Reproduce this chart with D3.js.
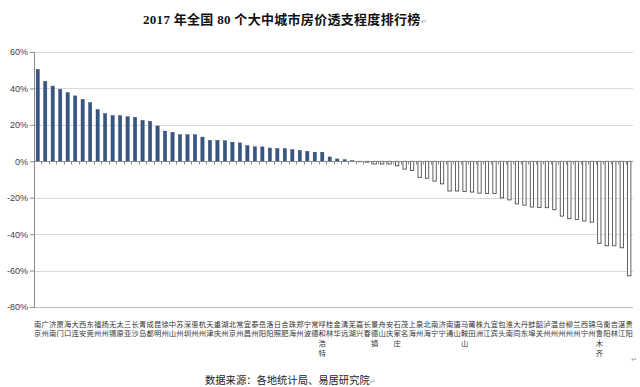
<!DOCTYPE html>
<html>
<head>
<meta charset="utf-8">
<script src="https://cdn.jsdelivr.net/npm/d3@7"></script>
<style>
  body { margin: 0; background: #fff; }
</style>
</head>
<body>
<div id="wrapper"></div>
<script>
// Data
const cities = [
  "南京","广州","济南","厦门","海口","大连","西安","东莞","福州","扬州",
  "无锡","太原","三亚","长沙","青岛","成都","昆明","徐州","中山","苏州",
  "深圳","惠州","杭州","天津","重庆","湖州","北京","常州","宜昌","泰州",
  "岳阳","洛阳","日照","合肥","珠海","郑州","宁波","常德","呼和浩特","桂林",
  "金华","清远","芜湖","嘉兴","长春","景德镇","舟山","安庆","石家庄","茂名",
  "上海","泉州","北海","南宁","济宁","南通","唐山","马鞍山","莆田","株洲",
  "九江","宜宾","包头","淮南","大同","丹东","蚌埠","韶关","泸州","温州",
  "台州","柳州","兰州","西宁","锦州","乌鲁木齐","衡阳","吉林","湛江","贵阳"
]

const overdraft = [
  50.5, 43.9, 41.3, 39.5, 37.7, 35.9, 34.0, 32.2, 28.4, 26.2,
  25.1, 25.1, 24.5, 24.2, 22.5, 22.0, 19.4, 16.6, 15.9, 14.6,
  14.6, 14.6, 13.3, 11.5, 11.5, 11.3, 10.5, 10.1, 8.6, 8.0,
  7.9, 7.3, 7.0, 7.0, 6.4, 6.0, 5.5, 5.0, 5.0, 2.4,
  1.3, 0.9, 0.4, -0.3, -0.5, -1.5, -1.5, -1.5, -2.5, -4.3,
  -5.0, -8.9, -9.3, -10.9, -12.4, -16.3, -16.3, -16.6, -16.9, -17.5,
  -17.7, -17.7, -20.1, -21.2, -23.4, -24.1, -25.1, -25.3, -25.5, -26.6,
  -30.1, -31.5, -31.9, -32.8, -33.4, -45.0, -46.4, -46.4, -47.5, -62.9
]

const yTicks = [-80, -60, -40, -20, 0, 20, 40, 60]

const titleText = "2017 年全国 80 个大中城市房价透支程度排行榜"
const sourceText = "数据来源：各地统计局、易居研究院"

const dataset = cities.map((c, i) => ({ city: c, value: overdraft[i] }))

// Dimensions
let dimensions = {
  width: 640,
  height: 387,
  margin: { top: 52, right: 7, bottom: 80, left: 34 },
}
dimensions.boundedWidth = dimensions.width - dimensions.margin.left - dimensions.margin.right
dimensions.boundedHeight = dimensions.height - dimensions.margin.top - dimensions.margin.bottom

const wrapper = d3.select("#wrapper")
  .append("svg")
  .attr("width", dimensions.width)
  .attr("height", dimensions.height)

const bounds = wrapper.append("g")
  .attr("transform", `translate(${dimensions.margin.left}, ${dimensions.margin.top})`)

// Scales
const xScale = d3.scaleBand()
  .domain(cities)
  .range([0, dimensions.boundedWidth])
  .paddingInner(0.56)
  .paddingOuter(0.28)

const yScale = d3.scaleLinear()
  .domain([-80, 60])
  .range([dimensions.boundedHeight, 0])

// Gridlines
bounds.append("g")
  .selectAll("line")
  .data(yTicks.filter(d => d !== 0))
  .join("line")
    .attr("x1", 0)
    .attr("x2", dimensions.boundedWidth)
    .attr("y1", d => Math.round(yScale(d)) + 0.5)
    .attr("y2", d => Math.round(yScale(d)) + 0.5)
    .attr("stroke", d => d === -80 ? "#bdbdbd" : "#d9d9d9")
    .attr("stroke-width", 1)

// Y axis
const yAxisGenerator = d3.axisLeft(yScale)
  .tickValues(yTicks)
  .tickSize(4)
  .tickPadding(2)
  .tickFormat(d => d + "%")

const yAxis = bounds.append("g")
  .call(yAxisGenerator)
yAxis.select(".domain").attr("stroke", "#8c8c8c")
yAxis.selectAll(".tick line").attr("stroke", "#8c8c8c")
yAxis.selectAll("text")
  .attr("fill", "#404040")
  .style("font-size", "9px")
  .style("font-family", "'Liberation Sans', Arial, sans-serif")

// Bars
bounds.append("g")
  .selectAll("rect")
  .data(dataset)
  .join("rect")
    .attr("x", d => xScale(d.city))
    .attr("y", d => yScale(Math.max(0, d.value)))
    .attr("width", xScale.bandwidth())
    .attr("height", d => Math.abs(yScale(d.value) - yScale(0)))
    .attr("fill", d => d.value >= 0 ? "#385682" : "#ffffff")
    .attr("stroke", d => d.value >= 0 ? "#2c466b" : "#3a3a3a")
    .attr("stroke-width", d => d.value >= 0 ? 0.4 : 0.8)

// Category axis at zero
const zeroY = Math.round(yScale(0)) + 0.5
bounds.append("line")
  .attr("x1", 0)
  .attr("x2", dimensions.boundedWidth)
  .attr("y1", zeroY)
  .attr("y2", zeroY)
  .attr("stroke", "#8c8c8c")

bounds.append("g")
  .selectAll("line")
  .data(cities)
  .join("line")
    .attr("x1", d => Math.round(xScale(d) - xScale.step() * xScale.paddingOuter()) + 0.5)
    .attr("x2", d => Math.round(xScale(d) - xScale.step() * xScale.paddingOuter()) + 0.5)
    .attr("y1", zeroY)
    .attr("y2", zeroY + 3)
    .attr("stroke", "#8c8c8c")

// Category labels, vertical characters under the plot
const labelTop = dimensions.boundedHeight + 19.5
const labels = bounds.append("g")
  .style("font-family", "'Noto Sans CJK SC', sans-serif")
  .style("font-size", "7.3px")
  .attr("fill", "#333")
  .selectAll("text")
  .data(dataset)
  .join("text")
    .attr("text-anchor", "middle")

labels.selectAll("tspan")
  .data(d => Array.from(d.city).map(ch => ({ ch, x: xScale(d.city) + xScale.bandwidth() / 2 })))
  .join("tspan")
    .attr("x", d => d.x)
    .attr("y", (d, i) => labelTop + i * 9.7)
    .text(d => d.ch)

// Title
const title = wrapper.append("text")
  .attr("x", 143)
  .attr("y", 24)
  .attr("fill", "#111")
  .style("font-family", "'Liberation Serif', 'Noto Sans CJK SC', serif")
  .style("font-size", "13px")
  .style("font-weight", "bold")
  .style("letter-spacing", "0.3px")
  .text(titleText)
title.append("tspan")
  .attr("fill", "#9a9a9a")
  .style("font-size", "7px")
  .style("font-weight", "normal")
  .text("↵")

// Source note
const source = wrapper.append("text")
  .attr("x", 205)
  .attr("y", 384)
  .attr("fill", "#222")
  .style("font-family", "'Noto Sans CJK SC', sans-serif")
  .style("font-size", "10.3px")
  .text(sourceText)
source.append("tspan")
  .attr("fill", "#9a9a9a")
  .style("font-size", "7px")
  .text("↵")

wrapper.append("text")
  .attr("x", 631)
  .attr("y", 362)
  .attr("fill", "#9a9a9a")
  .style("font-size", "7px")
  .text("↵")
</script>
</body>
</html>
